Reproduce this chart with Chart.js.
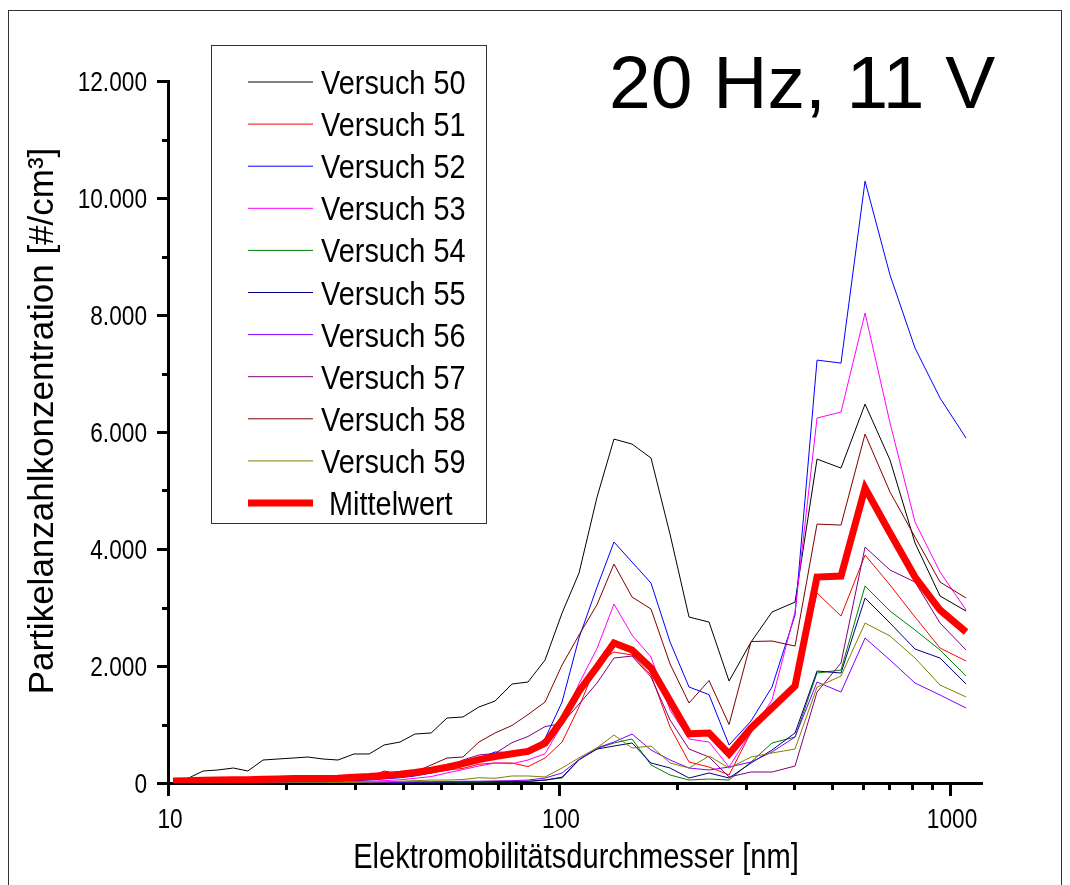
<!DOCTYPE html>
<html>
<head>
<meta charset="utf-8">
<script src="https://cdn.jsdelivr.net/npm/chart.js@4.4.1/dist/chart.umd.min.js"></script>
<style>
  html, body { margin: 0; padding: 0; background: #fff; }
  canvas { display: block; }
</style>
</head>
<body>
<canvas id="sizeChart" width="1070" height="885" style="width:1070px;height:885px"></canvas>
<script>
// mobility diameter channels [nm]
const diameters = [10.3, 11.25, 12.3, 13.4, 14.7, 16.0, 17.5, 19.1, 20.9, 22.8, 24.9, 27.2, 29.9, 32.7, 35.7,
  39.2, 42.8, 47.1, 51.7, 56.8, 62.4, 68.6, 75.8, 83.3, 92.1, 101.8, 112.5, 125.1, 138.2, 153.7,
  171.9, 192.3, 215.0, 241.9, 272.2, 309.8, 350.5, 401.4, 456.9, 526.2, 606.2, 702.3, 813.7, 942.8, 1099];

// particle number concentration [#/cm3] per run
const run50 = [60, 80, 205, 222, 256, 205, 393, 410, 427, 444, 410, 393, 496, 496, 650, 700, 837, 855, 1111, 1128,
  1299, 1401, 1692, 1726, 2102, 2905, 3589, 4888, 5879, 5794, 5555, 4250, 2837, 2751, 1743, 2410, 2922, 3093, 5537, 5383,
  6477, 5520, 4102, 3196, 2939];
const run51 = [10, 15, 15, 20, 20, 25, 25, 30, 30, 35, 40, 45, 55, 70, 90, 110, 140, 180, 220, 250,
  320, 342, 342, 280, 427, 700, 1300, 2051, 2239, 2188, 1846, 957, 359, 273, 137, 870, 1300, 1700, 3247, 2854,
  3897, 3384, 2837, 2307, 2085];
const run52 = [5, 5, 5, 10, 10, 10, 15, 15, 20, 20, 25, 30, 40, 50, 70, 90, 120, 170, 230, 330,
  420, 530, 520, 510, 760, 1384, 2480, 3350, 4119, 3777, 3418, 2410, 1641, 1510, 649, 1060, 1641, 2871, 7229, 7178,
  10288, 8682, 7434, 6580, 5896];
const run53 = [5, 5, 5, 5, 10, 10, 10, 10, 15, 15, 20, 20, 25, 30, 40, 55, 80, 110, 171, 230,
  290, 342, 330, 393, 500, 1000, 1700, 2300, 3059, 2529, 2153, 1248, 752, 700, 273, 871, 1418, 2930, 6238, 6341,
  8033, 6153, 4461, 3606, 2957];
const run54 = [0, 0, 0, 0, 0, 0, 0, 0, 0, 0, 0, 5, 5, 5, 5, 10, 10, 10, 10, 15,
  15, 20, 20, 25, 50, 85, 393, 590, 684, 752, 308, 137, 51, 68, 51, 359, 684, 786, 1880, 1931,
  3367, 2939, 2615, 2273, 1829];
const run55 = [0, 0, 0, 0, 0, 0, 0, 0, 0, 0, 5, 5, 5, 5, 10, 10, 10, 15, 15, 20,
  20, 25, 25, 30, 50, 100, 400, 580, 632, 684, 342, 256, 85, 171, 85, 342, 564, 855, 1914, 1880,
  3162, 2734, 2290, 2136, 1692];
const run56 = [0, 0, 0, 0, 0, 0, 0, 5, 5, 5, 5, 10, 10, 10, 15, 15, 20, 20, 25, 30,
  30, 35, 40, 50, 85, 171, 400, 600, 700, 837, 564, 393, 256, 222, 273, 359, 530, 786, 1726, 1555,
  2478, 2102, 1709, 1504, 1282];
const run57 = [10, 10, 15, 15, 15, 20, 20, 25, 25, 30, 35, 40, 50, 60, 80, 110, 150, 200, 273, 393,
  479, 505, 690, 795, 965, 1017, 1350, 1709, 2136, 2170, 1811, 1077, 581, 444, 103, 188, 188, 290, 1555, 2051,
  4033, 3640, 3435, 2734, 2273];
const run58 = [20, 25, 30, 30, 35, 40, 45, 50, 55, 60, 60, 70, 80, 100, 205, 150, 188, 308, 427, 444,
  700, 855, 983, 1170, 1384, 2017, 2530, 3050, 3743, 3179, 2974, 2034, 1367, 1752, 1000, 2418, 2427, 2341, 4426, 4409,
  5965, 4973, 4204, 3435, 3162];
const run59 = [0, 0, 0, 0, 0, 0, 0, 0, 5, 5, 5, 10, 10, 15, 20, 30, 40, 50, 50, 60,
  90, 80, 120, 120, 103, 256, 430, 600, 820, 598, 632, 342, 256, 461, 256, 444, 513, 581, 1641, 1829,
  2734, 2512, 2136, 1675, 1470];
const meanValues = [35, 40, 45, 50, 55, 55, 65, 70, 75, 75, 75, 80, 100, 110, 130, 150, 180, 220, 270, 330,
  400, 450, 500, 540, 680, 1070, 1570, 1985, 2393, 2273, 1965, 1400, 840, 855, 496, 940, 1282, 1658, 3520, 3537,
  5042, 4273, 3520, 2957, 2581];

const runLabels = ["Versuch 50", "Versuch 51", "Versuch 52", "Versuch 53", "Versuch 54",
  "Versuch 55", "Versuch 56", "Versuch 57", "Versuch 58", "Versuch 59"];
const meanLabel = "Mittelwert";

const yMajorTicks = [0, 2000, 4000, 6000, 8000, 10000, 12000];
const yTickLabels = ["0", "2.000", "4.000", "6.000", "8.000", "10.000", "12.000"];
const yMinorTicks = [1000, 3000, 5000, 7000, 9000, 11000];
const xMajorTicks = [10, 100, 1000];
const xTickLabels = ["10", "100", "1000"];
const xMinorTicks = [20, 30, 40, 50, 60, 70, 80, 90, 200, 300, 400, 500, 600, 700, 800, 900];

const runs = [run50, run51, run52, run53, run54, run55, run56, run57, run58, run59];
const runColors = ["#000000", "#ff0000", "#0000ff", "#ff00ff", "#008000",
  "#000080", "#8000ff", "#800080", "#800000", "#808000"];

const FONT = "'Liberation Sans', Arial, sans-serif";

const toPoints = (vals) => vals.map((v, i) => ({ x: diameters[i], y: v }));

const datasets = runs.map((vals, i) => ({
  label: runLabels[i],
  data: toPoints(vals),
  borderColor: runColors[i],
  borderWidth: 1,
  pointRadius: 0,
  tension: 0,
  order: runs.length - i,
}));
datasets.push({
  label: meanLabel,
  data: toPoints(meanValues),
  borderColor: "#ff0000",
  borderWidth: 7,
  pointRadius: 0,
  tension: 0,
  order: 0,
});

// text helper: horizontal squeeze sx, optional rotation
function drawText(ctx, str, x, y, size, { align = "left", sx = 1, rotate = 0 } = {}) {
  ctx.save();
  ctx.translate(x, y);
  if (rotate) ctx.rotate(rotate);
  ctx.scale(sx, 1);
  ctx.font = size + "px " + FONT;
  ctx.fillStyle = "#000";
  ctx.textAlign = align;
  ctx.textBaseline = "alphabetic";
  ctx.fillText(str, 0, 0);
  ctx.restore();
}

const decorations = {
  id: "decorations",
  beforeDraw(chart) {
    const { ctx, width, height } = chart;
    ctx.save();
    ctx.fillStyle = "#fff";
    ctx.fillRect(0, 0, width, height);
    ctx.strokeStyle = "#333";
    ctx.lineWidth = 1;
    ctx.strokeRect(8.5, 10.5, 1053, 900);
    ctx.restore();
  },
  afterDraw(chart) {
    const { ctx, chartArea: { left, bottom }, scales: { x, y } } = chart;
    ctx.save();
    ctx.strokeStyle = "#000";
    ctx.lineWidth = 3;
    ctx.beginPath();
    yMajorTicks.forEach((v) => { const py = Math.round(y.getPixelForValue(v)) + 0.5; ctx.moveTo(left - 11, py); ctx.lineTo(left, py); });
    yMinorTicks.forEach((v) => { const py = Math.round(y.getPixelForValue(v)) + 0.5; ctx.moveTo(left - 6, py); ctx.lineTo(left, py); });
    xMajorTicks.forEach((v) => { const px = Math.round(x.getPixelForValue(v)) + 0.5; ctx.moveTo(px, bottom); ctx.lineTo(px, bottom + 13); });
    xMinorTicks.forEach((v) => { const px = Math.round(x.getPixelForValue(v)) + 0.5; ctx.moveTo(px, bottom); ctx.lineTo(px, bottom + 7); });
    ctx.stroke();
    ctx.restore();

    yMajorTicks.forEach((v, i) => drawText(ctx, yTickLabels[i], 147, y.getPixelForValue(v) + 9.5, 27, { align: "right", sx: 0.84 }));
    xMajorTicks.forEach((v, i) => drawText(ctx, xTickLabels[i], x.getPixelForValue(v) + 2, 828, 27, { align: "center", sx: 0.84 }));

    drawText(ctx, "Elektromobilitätsdurchmesser [nm]", 576, 868, 35, { align: "center", sx: 0.83 });
    drawText(ctx, "Partikelanzahlkonzentration [#/cm³]", 53, 421, 35, { align: "center", rotate: -Math.PI / 2 });
    drawText(ctx, "20 Hz, 11 V", 609, 108, 75, {});

    // legend box
    ctx.save();
    ctx.strokeStyle = "#333";
    ctx.lineWidth = 1;
    ctx.strokeRect(211.5, 45.5, 275, 478);
    chart.data.datasets.forEach((ds, i) => {
      const rowY = 82 + i * 42.1;
      ctx.beginPath();
      ctx.strokeStyle = ds.borderColor;
      ctx.lineWidth = ds.borderWidth;
      ctx.moveTo(248, rowY);
      ctx.lineTo(313, rowY);
      ctx.stroke();
      const tx = ds.borderWidth > 2 ? 329 : 321;
      drawText(ctx, ds.label, tx, rowY + 12, 34, { sx: 0.85 });
    });
    ctx.restore();
  },
};

new Chart(document.getElementById("sizeChart"), {
  type: "line",
  data: { datasets },
  options: {
    responsive: false,
    animation: false,
    devicePixelRatio: 1,
    layout: { padding: { left: 168, top: 81, right: 88, bottom: 102 } },
    scales: {
      x: {
        type: "logarithmic",
        min: 10,
        max: 1207,
        grid: { display: false, drawTicks: false },
        border: { display: true, color: "#000", width: 3 },
        ticks: { display: false },
      },
      y: {
        type: "linear",
        min: 0,
        max: 12000,
        grid: { display: false, drawTicks: false },
        border: { display: true, color: "#000", width: 3 },
        ticks: { display: false },
      },
    },
    plugins: {
      legend: { display: false },
      tooltip: { enabled: false },
    },
  },
  plugins: [decorations],
});
</script>
</body>
</html>
